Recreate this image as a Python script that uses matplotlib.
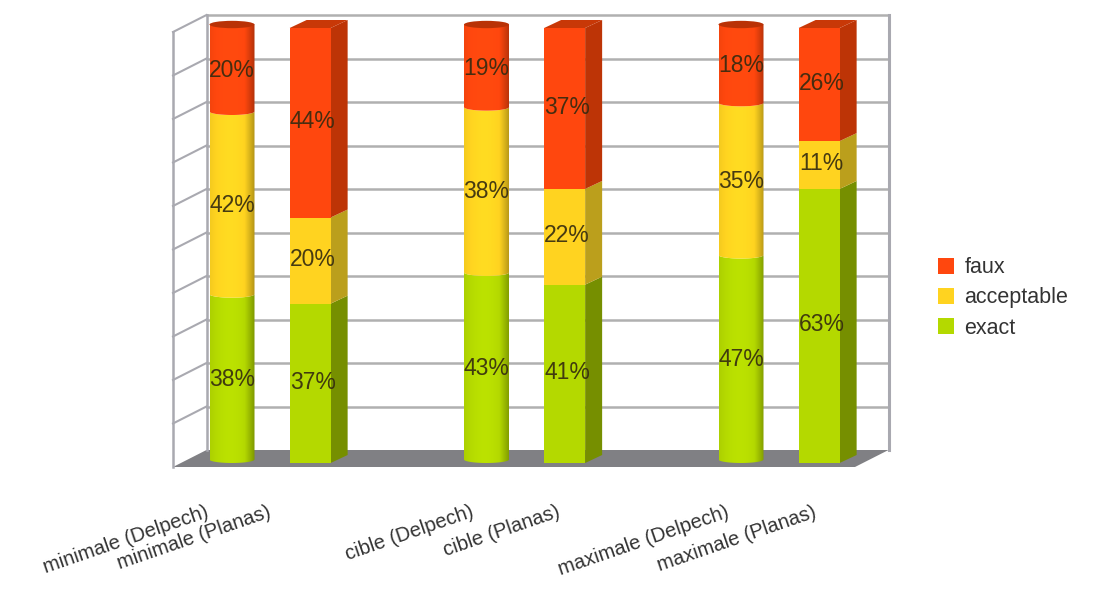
import numpy as np
import matplotlib
matplotlib.use('Agg')
import matplotlib.pyplot as plt
from matplotlib.colors import to_rgb
from matplotlib.patches import Polygon, Ellipse, Patch
from matplotlib.transforms import ScaledTranslation

plt.rcParams['font.family'] = ['Liberation Sans', 'DejaVu Sans']

categories = ['minimale (Delpech)', 'minimale (Planas)', 'cible (Delpech)',
              'cible (Planas)', 'maximale (Delpech)', 'maximale (Planas)']
exact = [38, 37, 43, 41, 47, 63]
acceptable = [42, 20, 38, 22, 35, 11]
faux = [20, 44, 19, 37, 18, 26]
grid_values = [0, 10, 20, 30, 40, 50, 60, 70, 80, 90, 100]

series_names = ['exact', 'acceptable', 'faux']
front_colors = ['#b4d900', '#ffd320', '#ff470e']
side_colors = ['#768f00', '#bb9f1c', '#bd3406']

# layout, the scale is 254.5 px per group and 4.35 px per percent
px_x = 254.5
px_y = 4.35
x_pos = []
for g in range(3):
    x_pos.append(g)
    x_pos.append(g + 0.307)
half_w = 22.5 / px_x
half_box = 20.5 / px_x
depth_x = 17 / px_x
depth_y = 8 / px_y
wall_dx = 33.5 / px_x
wall_dy = 17 / px_y
floor_y = -4 / px_y
cyl_shift = 3.5 / px_y
arc_h = 3.5 / px_y
left_x = (173 - 232) / px_x
right_x = (855 - 232) / px_x

fig = plt.figure(figsize=(10.93, 5.89), dpi=100)
ax = fig.add_axes([160 / 1093, (589 - 472) / 589, 740 / 1093, 462 / 589])
ax.set_xlim((160 - 232) / px_x, (900 - 232) / px_x)
ax.set_ylim((463 - 472) / px_y, (463 - 10) / px_y)
for s in ax.spines.values():
    s.set_visible(False)
ax.set_yticks([])

# walls and floor
frame = '#a9a9b0'
ax.add_patch(Polygon([(left_x, floor_y), (left_x + wall_dx, floor_y + wall_dy),
                      (right_x + wall_dx, floor_y + wall_dy), (right_x, floor_y)],
                     fc='#808084', ec='none', zorder=1))
for v in grid_values[1:]:
    y = v * 435 / 435 + floor_y
    ax.plot([left_x + wall_dx, right_x + wall_dx], [y + wall_dy, y + wall_dy],
            color='#b0b0b0', lw=1.8, zorder=1)
    ax.plot([left_x, left_x + wall_dx], [y, y + wall_dy], color=frame, lw=1.5, zorder=1)
top = grid_values[-1] + floor_y
ax.plot([left_x, left_x], [floor_y, top], color=frame, lw=1.8, zorder=1)
ax.plot([left_x + wall_dx, left_x + wall_dx], [floor_y + wall_dy, top + wall_dy],
        color=frame, lw=1.8, zorder=1)
ax.plot([right_x + wall_dx, right_x + wall_dx], [floor_y + wall_dy, top + wall_dy],
        color=frame, lw=2.2, zorder=1)


def cylinder_piece(x, y0, y1, color, z, draw_cap):
    t = np.linspace(np.pi, 2 * np.pi, 40)
    xs = x + half_w * np.cos(t)
    ys = y0 + cyl_shift + arc_h * np.sin(t)
    verts = [(x - half_w, y1 + cyl_shift)] + list(zip(xs, ys)) + [(x + half_w, y1 + cyl_shift)]
    if not draw_cap:
        xs2 = x + half_w * np.cos(t[::-1])
        ys2 = y1 + cyl_shift + arc_h * np.sin(t[::-1])
        verts = verts[:-1] + list(zip(xs2, ys2))
    clip = Polygon(verts, fc='none', ec='none', zorder=z)
    ax.add_patch(clip)
    # shading across the cylinder
    u = np.linspace(-1, 1, 64)
    shade = 1.04 - 0.10 * np.abs(u + 0.1) ** 2 - 0.22 * np.clip(u - 0.55, 0, 1) / 0.45
    rgb = np.clip(np.outer(shade, to_rgb(color)), 0, 1).reshape(1, -1, 3)
    im = ax.imshow(rgb, extent=(x - half_w, x + half_w, y0 - 5, y1 + 5), aspect='auto',
                   zorder=z, interpolation='bilinear')
    im.set_clip_path(clip)


stack = np.array([exact, acceptable, faux], dtype=float)
totals = stack.sum(axis=0)
for i in range(len(categories)):
    bottom = 0.0
    for k in range(3):
        h = stack[k][i] * 100 / totals[i]
        x = x_pos[i]
        if i % 2 == 0:
            cylinder_piece(x, bottom, bottom + h, front_colors[k], 3 + k, k == 2)
            ax.text(x, bottom + h / 2 + 0.3, '%d%%' % stack[k][i], ha='center', va='center',
                    fontsize=16.5, color='#332a10', alpha=0.9, zorder=10)
        else:
            x0 = x - half_box
            x1 = x + half_box
            ax.add_patch(Polygon([(x1, bottom), (x1 + depth_x, bottom + depth_y),
                                  (x1 + depth_x, bottom + h + depth_y), (x1, bottom + h)],
                                 fc=side_colors[k], ec='none', zorder=3))
            ax.add_patch(Polygon([(x0, bottom), (x1, bottom), (x1, bottom + h), (x0, bottom + h)],
                                 fc=front_colors[k], ec='none', zorder=4))
            ax.text(x + 0.01, bottom + h / 2 + 0.3, '%d%%' % stack[k][i], ha='center', va='center',
                    fontsize=16.5, color='#332a10', alpha=0.9, zorder=10)
        bottom += h
    # top of the bar
    if i % 2 == 0:
        ax.add_patch(Ellipse((x_pos[i], 100 + cyl_shift), 2 * half_w, 2 * arc_h * 1.05,
                             angle=0, fc='#b93206', ec='none', zorder=8))
    else:
        x0 = x_pos[i] - half_box
        x1 = x_pos[i] + half_box
        ax.add_patch(Polygon([(x0, 100), (x1, 100), (x1 + depth_x, 100 + depth_y),
                              (x0 + depth_x, 100 + depth_y)],
                             fc='#c83807', ec='none', zorder=8))

# tick labels
ax.set_xticks(x_pos)
ax.set_xticklabels(categories, rotation=19, ha='right', va='top', rotation_mode='anchor',
                   fontsize=14.5, color='#333333')
ax.tick_params(axis='x', length=0, pad=22)
shifts = [-27, -43, -17, -8, -16, -7]
for lab, s in zip(ax.get_xticklabels(), shifts):
    lab.set_transform(lab.get_transform() + ScaledTranslation(s / 100, 0, fig.dpi_scale_trans))

handles = [Patch(fc=c, ec='none') for c in front_colors[::-1]]
ax.legend(handles, series_names[::-1], loc='center left',
          bbox_to_anchor=(938 / 1093, (589 - 298) / 589), bbox_transform=fig.transFigure,
          frameon=False, fontsize=15.5, labelcolor='#333333', handlelength=0.72, handleheight=0.72,
          handletextpad=0.5, labelspacing=0.42, borderpad=0, borderaxespad=0)

fig.savefig('out.png', dpi=100)
